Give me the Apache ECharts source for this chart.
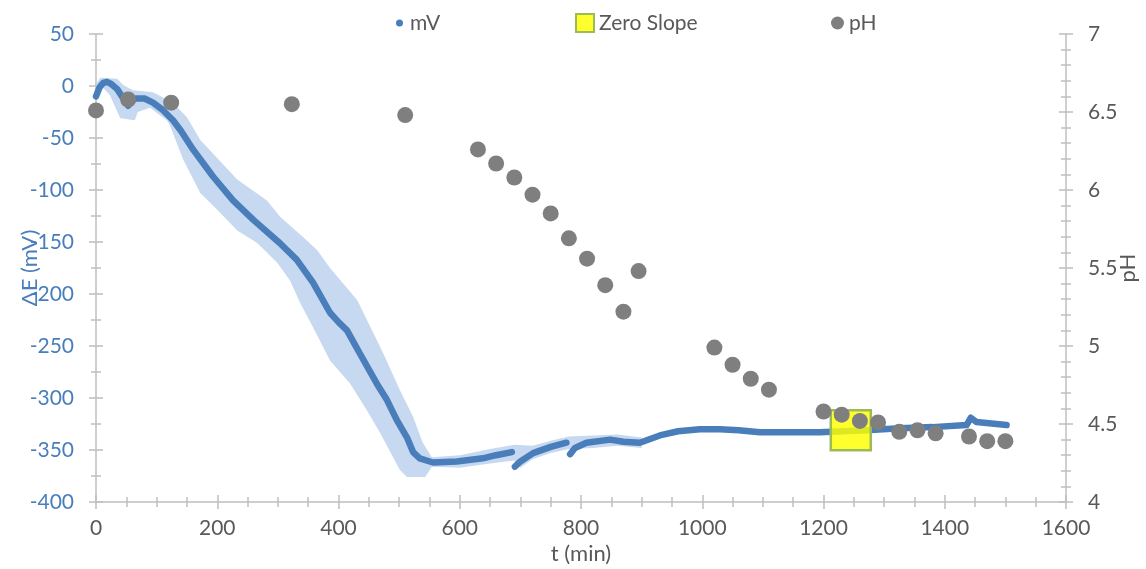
<!DOCTYPE html>
<html>
<head>
<meta charset="utf-8">
<script src="https://cdn.jsdelivr.net/npm/echarts@6/dist/echarts.min.js"></script>
<style>html,body{margin:0;padding:0;background:#fff}#c{width:1146px;height:569px}</style>
</head>
<body>
<div id="c"></div>
<script>
// ---- data ----
const mvT = [0,6,12,18,25,35,45,53,58,66,80,94,110,127,140,160,193,226,260,303,331,358,386,400,414,435,463,480,496,513,523,534,556,595,638,660,686,688,691,700,721,750,776,779,782,790,809,848,870,897,930,960,996,1029,1060,1095,1150,1194,1271,1326,1380,1436,1443,1452,1469,1502];
const mvV = [-10,-1,3,4,2,-3,-12,-19,-14,-12,-12,-16,-23,-33,-43,-61,-87,-110,-129,-151,-167,-189,-218,-227,-235,-257,-286,-302,-321,-338,-352,-358,-362,-361,-358,-355,-352,null,-366,-361,-353,-347,-343,null,-354,-348,-343,-340,-342,-343,-336,-332,-330,-330,-331,-333,-333,-333,-331,-329,-328,-326,-319,-323,-324,-326];

const bandUpT = [0,7,35,45,61,94,127,150,172,233,282,304,341,365,386,431,473,501,523,539,554,600,650,690,720,750,780,820,860,900];
const bandUpV = [2,8,7,1,-4,-6,-16,-30,-52,-90,-110,-126,-145,-158,-175,-206,-256,-292,-318,-343,-357,-355,-349,-345,-346,-341,-337,-336,-335,-338];
const bandLoT = [0,12,23,40,64,69,89,117,122,144,172,200,233,266,299,320,337,358,386,419,447,469,490,501,513,543,554,600,650,690,700,720,750,780,820,860,900];
const bandLoV = [-14,-2,-9,-31,-33,-25,-21,-33,-38,-71,-103,-119,-139,-151,-170,-187,-209,-232,-264,-286,-312,-334,-357,-369,-376,-376,-366,-367,-363,-360,-367,-359,-353,-349,-348,-346,-348];

const zeroT = [1245];
const zeroV = [-331];

const phT = [0,53,124,323,510,630,660,690,720,750,780,810,840,870,895,1020,1050,1080,1110,1200,1230,1260,1290,1325,1355,1385,1440,1470,1500];
const phV = [6.51,6.58,6.56,6.55,6.48,6.26,6.17,6.08,5.97,5.85,5.69,5.56,5.39,5.22,5.48,4.99,4.88,4.79,4.72,4.58,4.56,4.52,4.51,4.45,4.46,4.44,4.42,4.39,4.39];

// ---- chart ----
const FONT = 'Lato';
const GREY = '#bfbfbf';
const TXT = '#595959';
const BLUE = '#4a7ebb';
const grid = {left: 96, right: 80, top: 34, bottom: 67, containLabel: false, outerBoundsMode: 'none'};

function axisCommon(min, max, interval, minorSplit, inside) {
  return {
    type: 'value', min: min, max: max, interval: interval,
    axisLine: {show: !inside, onZero: false, lineStyle: {color: GREY, width: 1.5}},
    axisTick: {show: true, inside: inside, length: 7, lineStyle: {color: GREY, width: 1.5}},
    minorTick: {show: true, splitNumber: minorSplit, length: 5, lineStyle: {color: GREY, width: 1.5}},
    splitLine: {show: false},
    minorSplitLine: {show: false}
  };
}
const fmt = v => String(v);

const xMain = Object.assign(axisCommon(0, 1600, 200, 4, false), {
  gridIndex: 0, position: 'bottom',
  name: 't (min)', nameLocation: 'middle', nameGap: 41, nameMoveOverlap: false,
  nameTextStyle: {color: TXT, fontFamily: FONT, fontSize: 22},
  axisLabel: {color: TXT, fontFamily: FONT, fontSize: 21, margin: 16, formatter: fmt}
});
const xIn = Object.assign(axisCommon(0, 1600, 200, 4, true), {gridIndex: 1, position: 'bottom', axisLabel: {show: false}});

const yMv = Object.assign(axisCommon(-400, 50, 50, 2, false), {
  gridIndex: 0, position: 'left',
  name: 'ΔE (mV)', nameLocation: 'middle', nameGap: 55, nameRotate: 90, nameMoveOverlap: false,
  nameTextStyle: {color: BLUE, fontFamily: FONT, fontSize: 22},
  axisLabel: {color: BLUE, fontFamily: FONT, fontSize: 21, margin: 22, formatter: fmt}
});
const yPh = Object.assign(axisCommon(4, 7, 0.5, 5, false), {
  gridIndex: 0, position: 'right',
  name: 'pH', nameLocation: 'middle', nameGap: 51, nameRotate: 90, nameMoveOverlap: false,
  nameTextStyle: {color: TXT, fontFamily: FONT, fontSize: 22},
  axisLabel: {color: TXT, fontFamily: FONT, fontSize: 21, margin: 22, formatter: fmt}
});
const yMvIn = Object.assign(axisCommon(-400, 50, 50, 2, true), {gridIndex: 1, position: 'left', axisLabel: {show: false}});
const yPhIn = Object.assign(axisCommon(4, 7, 0.5, 5, true), {gridIndex: 1, position: 'right', axisLabel: {show: false}});

const mvData = mvT.map((t, i) => [t, mvV[i] === null ? '-' : mvV[i]]);
const phData = phT.map((t, i) => [t, phV[i]]);
const zeroData = zeroT.map((t, i) => [t, zeroV[i]]);

const legendText = {color: TXT, fontFamily: FONT, fontSize: 21, lineHeight: 24};

const option = {
  animation: false,
  backgroundColor: '#fff',
  grid: [Object.assign({}, grid), Object.assign({}, grid)],
  xAxis: [xMain, xIn],
  yAxis: [yMv, yPh, yMvIn, yPhIn],
  legend: [
    {left: 391, top: 6, itemWidth: 7, itemHeight: 7, selectedMode: false,
     data: [{name: 'mV', icon: 'circle'}], textStyle: Object.assign({padding: [0, 0, 0, 2]}, legendText)},
    {left: 570, top: 6, itemWidth: 18, itemHeight: 18, selectedMode: false,
     data: [{name: 'Zero Slope', icon: 'rect'}], textStyle: legendText},
    {left: 826, top: 6, itemWidth: 13, itemHeight: 13, selectedMode: false,
     data: [{name: 'pH', icon: 'circle'}], textStyle: legendText}
  ],
  series: [
    {
      type: 'custom', name: 'band', xAxisIndex: 0, yAxisIndex: 0, silent: true,
      data: [[0, 0]], z: 1,
      renderItem: function (params, api) {
        const pts = [];
        for (let i = 0; i < bandUpT.length; i++) pts.push(api.coord([bandUpT[i], bandUpV[i]]));
        for (let i = bandLoT.length - 1; i >= 0; i--) pts.push(api.coord([bandLoT[i], bandLoV[i]]));
        return {type: 'polygon', shape: {points: pts}, style: {fill: '#c6d9f0'}};
      }
    },
    {
      type: 'line', name: 'mV', xAxisIndex: 0, yAxisIndex: 0, data: mvData, z: 2,
      showSymbol: false, symbol: 'none', connectNulls: false,
      itemStyle: {color: BLUE},
      lineStyle: {color: BLUE, width: 6.5, cap: 'round', join: 'round'}
    },
    {
      type: 'scatter', name: 'Zero Slope', xAxisIndex: 0, yAxisIndex: 0, data: zeroData, z: 3,
      symbol: 'rect', symbolSize: 40,
      itemStyle: {color: 'rgba(255,255,0,0.82)', borderColor: '#9bbb59', borderWidth: 2.5, opacity: 1}
    },
    {
      type: 'scatter', name: 'pH', xAxisIndex: 0, yAxisIndex: 1, data: phData, z: 4,
      symbol: 'circle', symbolSize: 16,
      itemStyle: {color: '#7f7f7f', opacity: 1}
    },
    {type: 'scatter', xAxisIndex: 1, yAxisIndex: 2, data: [], silent: true},
    {type: 'scatter', xAxisIndex: 1, yAxisIndex: 3, data: [], silent: true}
  ]
};

const chart = echarts.init(document.getElementById('c'), null, {renderer: 'canvas'});
chart.setOption(option);
</script>
</body>
</html>
